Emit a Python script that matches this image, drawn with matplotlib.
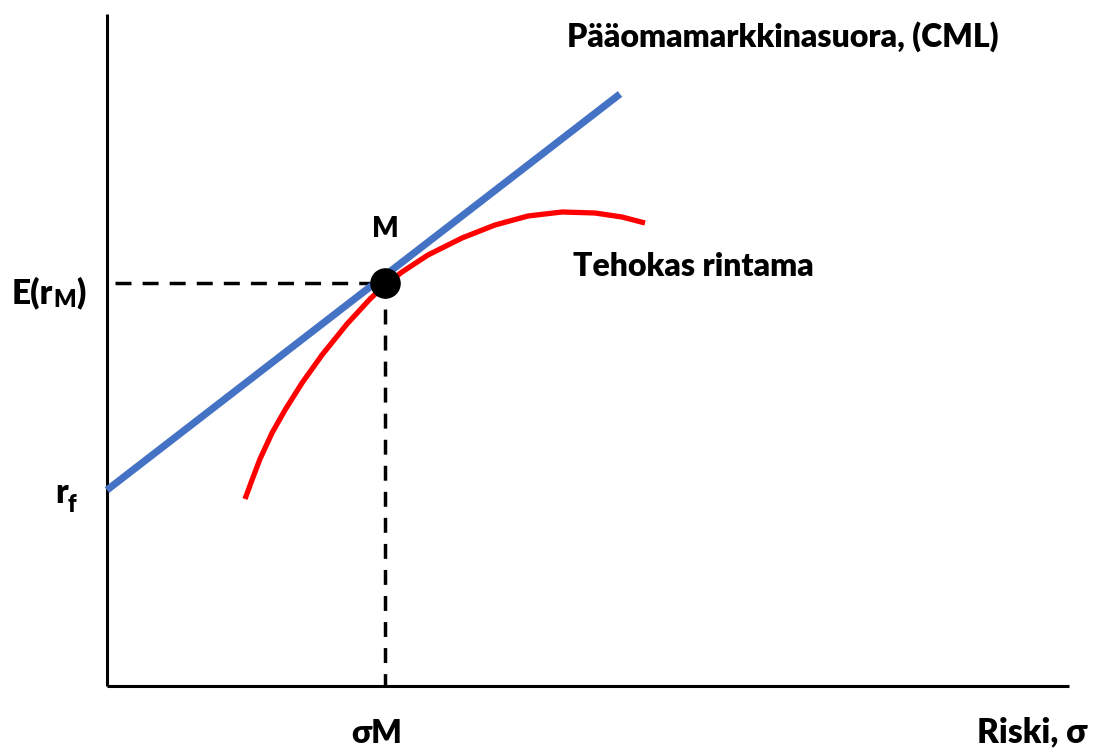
import matplotlib
matplotlib.use("Agg")
import matplotlib.pyplot as plt

# chart values (pixel-like units, origin at the axes corner)
rf = 196
cml_x = [0, 513]
cml_y = [196, 592]
market_x = 278
market_y = 403
frontier_x = [138, 145, 153, 165, 178, 195, 215, 240, 263, 278, 295, 321, 355, 388, 421, 455, 488, 515, 538]
frontier_y = [187, 206, 227, 253, 276, 303, 331, 362, 387, 401, 414, 431, 448, 461, 470, 474, 473, 469, 463]
x_end = 962
y_end = 672

plt.rcParams['font.family'] = ['Lato', 'DejaVu Sans']

fig = plt.figure(figsize=(10.94, 7.49), dpi=100)
ax = fig.add_axes([0, 0, 1, 1])
ax.set_xlim(-107, 987)
ax.set_ylim(-63, 686)
ax.axis('off')

# axes
ax.plot([0, 0], [0, y_end], color='black', lw=2.2, solid_capstyle='butt')
ax.plot([0, x_end], [0, 0], color='black', lw=2.2, solid_capstyle='butt')

# dashed guides
ax.plot([8, market_x], [market_y, market_y], color='black', lw=2.5, dashes=(4.6, 3.2))
ax.plot([market_x, market_x], [market_y, 0], color='black', lw=2.5, dashes=(4.3, 3.2))

# efficient frontier and CML
ax.plot(frontier_x, frontier_y, color='#FF0000', lw=3.8, solid_capstyle='butt', solid_joinstyle='round')
ax.plot(cml_x, cml_y, color='#4472C4', lw=5.2, solid_capstyle='butt')
ax.plot([market_x], [market_y], 'o', color='black', markersize=21)

fw = 'heavy'
ax.text(460, 639, 'Pääomamarkkinasuora, (CML)', fontsize=23, fontweight=fw, va='baseline', ha='left')
ax.text(466, 410, 'Tehokas rintama', fontsize=23, fontweight=fw, va='baseline', ha='left')
ax.text(market_x, 449, 'M', fontsize=20, fontweight=fw, va='baseline', ha='center')
ax.text(270, -57, 'σM', fontsize=23, fontweight=fw, va='baseline', ha='center')
ax.text(980, -56, 'Riski, σ', fontsize=24, fontweight=fw, va='baseline', ha='right')

# E(r_M)
ax.text(-95, 383, 'E(r', fontsize=24, fontweight=fw, va='baseline', ha='left')
ax.text(-54, 379, 'M', fontsize=17, fontweight=fw, va='baseline', ha='left')
ax.text(-31, 383, ')', fontsize=24, fontweight=fw, va='baseline', ha='left')
# r_f
ax.text(-52, 183, 'r', fontsize=24, fontweight=fw, va='baseline', ha='left')
ax.text(-39, 174, 'f', fontsize=17, fontweight=fw, va='baseline', ha='left')

fig.savefig('out.png', dpi=100)
